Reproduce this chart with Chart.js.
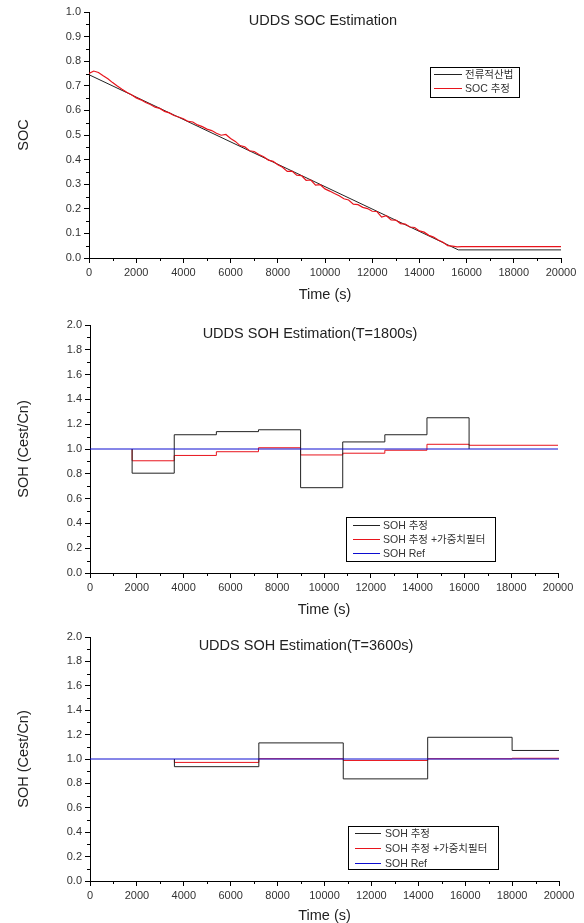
<!DOCTYPE html>
<html lang="ko">
<head>
<meta charset="UTF-8">
<title>UDDS SOC / SOH Estimation</title>
<script src="https://cdn.jsdelivr.net/npm/chart.js@4.4.1/dist/chart.umd.min.js"></script>
<style>
  html, body { margin: 0; padding: 0; background: #fff; overflow: hidden; width: 584px; height: 923px; }
  canvas { position: absolute; left: 0; }
</style>
</head>
<body>
<canvas id="socChart" width="584" height="305" style="top:0px"></canvas>
<canvas id="soh1800Chart" width="584" height="320" style="top:300px"></canvas>
<canvas id="soh3600Chart" width="584" height="316" style="top:612px"></canvas>

<script>
// ---- SOC (UDDS) ----
var socRefTime = [0, 15650, 20000];
var socRef = [0.745, 0.033, 0.033];

var socEstTime = [0, 200, 400, 600, 800, 1000, 1200, 1400, 1600, 1800,
    2000, 2200, 2400, 2600, 2800, 3000, 3200, 3400, 3600, 3800,
    4000, 4200, 4400, 4600, 4800, 5000, 5200, 5400, 5600, 5800,
    6000, 6200, 6400, 6600, 6800, 7000, 7200, 7400, 7600, 7800,
    8000, 8200, 8400, 8600, 8800, 9000, 9200, 9400, 9600, 9800,
    10000, 10200, 10400, 10600, 10800, 11000, 11200, 11400, 11600, 11800,
    12000, 12200, 12400, 12600, 12800, 13000, 13200, 13400, 13600, 13800,
    14000, 14200, 14400, 14600, 14800, 15000, 15200, 15400, 15600, 15800, 20000];
var socEst = [0.750, 0.760, 0.754, 0.741, 0.729, 0.713, 0.699, 0.686, 0.674, 0.664,
    0.651, 0.643, 0.632, 0.624, 0.613, 0.608, 0.596, 0.590, 0.579, 0.573,
    0.566, 0.555, 0.553, 0.541, 0.534, 0.524, 0.518, 0.507, 0.499, 0.502,
    0.486, 0.474, 0.457, 0.452, 0.436, 0.433, 0.421, 0.412, 0.398, 0.393,
    0.379, 0.369, 0.352, 0.353, 0.337, 0.335, 0.316, 0.317, 0.296, 0.298,
    0.281, 0.272, 0.262, 0.253, 0.241, 0.236, 0.219, 0.217, 0.206, 0.201,
    0.190, 0.189, 0.166, 0.172, 0.155, 0.154, 0.140, 0.138, 0.126, 0.124,
    0.110, 0.105, 0.092, 0.085, 0.073, 0.064, 0.050, 0.048, 0.045, 0.046, 0.046];

// ---- SOH, T = 1800 s (value holds from its time mark to the next; first entry = start at 1.0) ----
var soh1800EstTime = [1800, 1800, 3600, 5400, 7200, 9000, 10800, 12600, 14400, 16200];
var soh1800Est     = [1.0, 0.805, 1.115, 1.140, 1.155, 0.688, 1.057, 1.115, 1.252, 1.0];
var soh1800FiltTime = [1800, 1800, 3600, 5400, 7200, 9000, 10800, 12600, 14400, 16200, 20000];
var soh1800Filt     = [1.0, 0.905, 0.948, 0.978, 1.010, 0.952, 0.966, 0.990, 1.038, 1.030, 1.030];

// ---- SOH, T = 3600 s ----
var soh3600Time = [3600, 3600, 7200, 10800, 14400, 18000, 20000];
var soh3600Est  = [1.0, 0.937, 1.132, 0.837, 1.178, 1.070, 1.070];
var soh3600Filt = [1.0, 0.972, 1.002, 0.988, 1.002, 1.006, 1.006];

var sohRefTime = [0, 20000];
var sohRef = [1.0, 1.0];

var xTickLabels = ['0', '2000', '4000', '6000', '8000', '10000', '12000', '14000', '16000', '18000', '20000'];

var blackColor = '#222222';
var redColor = '#e8141c';
var blueColor = '#0c0cd0';

Chart.defaults.font.family = '"Liberation Sans", Arial, "Noto Sans CJK KR", sans-serif';

function toPoints(xs, ys) {
    return xs.map(function (x, i) { return { x: x, y: ys[i] }; });
}

// minor tick marks, Origin style (short, outside)
var minorTicks = {
    id: 'minorTicks',
    afterDraw: function (chart, args, opts) {
        var ctx = chart.ctx, xs = chart.scales.x, ys = chart.scales.y;
        ctx.save();
        ctx.strokeStyle = '#000';
        ctx.lineWidth = 1;
        ctx.beginPath();
        for (var v = opts.xStep; v < xs.max; v += 2 * opts.xStep) {
            var px = Math.round(xs.getPixelForValue(v)) + 0.5;
            ctx.moveTo(px, ys.bottom);
            ctx.lineTo(px, ys.bottom + 3);
        }
        for (var k = 1; k * opts.yStep < ys.max; k += 2) {
            var py = Math.round(ys.getPixelForValue(k * opts.yStep)) + 0.5;
            ctx.moveTo(xs.left, py);
            ctx.lineTo(xs.left - 3, py);
        }
        ctx.stroke();
        ctx.restore();
    }
};

// title drawn inside the plot area
var plotTitle = {
    id: 'plotTitle',
    afterDraw: function (chart, args, opts) {
        var ctx = chart.ctx;
        ctx.save();
        ctx.font = '14.5px "Liberation Sans", Arial, sans-serif';
        ctx.fillStyle = '#222';
        ctx.textAlign = 'center';
        ctx.textBaseline = 'middle';
        ctx.fillText(opts.text, opts.x, chart.chartArea.top + opts.dy);
        ctx.restore();
    }
};

// boxed legend placed inside the plot
var boxLegend = {
    id: 'boxLegend',
    afterDraw: function (chart, args, o) {
        var ctx = chart.ctx;
        ctx.save();
        ctx.strokeStyle = '#000';
        ctx.lineWidth = 1;
        ctx.strokeRect(Math.round(o.x) + 0.5, Math.round(o.y) + 0.5, o.w, o.h);
        ctx.font = '10.5px "Liberation Sans", Arial, "Noto Sans CJK KR", sans-serif';
        ctx.textBaseline = 'middle';
        ctx.textAlign = 'left';
        chart.data.datasets.forEach(function (ds, i) {
            var yy = Math.round(o.y + o.rowTop + i * o.rowGap) + 0.5;
            ctx.strokeStyle = ds.borderColor;
            ctx.beginPath();
            ctx.moveTo(o.x + o.line0, yy);
            ctx.lineTo(o.x + o.line1, yy);
            ctx.stroke();
            ctx.fillStyle = '#333';
            ctx.fillText(ds.label, o.x + o.textX, yy + 0.5);
        });
        ctx.restore();
    }
};

function makeScales(yMax, yStep, yTitle, yWidth, xTitlePad) {
    return {
        x: {
            type: 'linear', min: 0, max: 20000,
            ticks: {
                stepSize: 2000, color: '#333', font: { size: 11 }, padding: 3,
                maxRotation: 0, autoSkip: false,
                callback: function (v) { return xTickLabels[Math.round(v / 2000)]; }
            },
            grid: { display: true, drawOnChartArea: false, drawTicks: true, tickLength: 5, tickColor: '#000' },
            border: { display: true, color: '#000', width: 1 },
            title: { display: true, text: 'Time (s)', color: '#222', font: { size: 14.5 }, padding: { top: 0, bottom: xTitlePad } },
            afterFit: function (s) { s.height = 47; }
        },
        y: {
            type: 'linear', min: 0, max: yMax,
            ticks: {
                stepSize: yStep, color: '#333', font: { size: 11 }, padding: 3,
                callback: function (v) { return Number(v).toFixed(1); }
            },
            grid: { display: true, drawOnChartArea: false, drawTicks: true, tickLength: 5, tickColor: '#000' },
            border: { display: true, color: '#000', width: 1 },
            title: { display: true, text: yTitle, color: '#222', font: { size: 14.5 }, padding: { top: 15, bottom: 0 } },
            afterFit: function (s) { s.width = yWidth; }
        }
    };
}

function lineSet(label, xs, ys, color, order, width, stepped) {
    return {
        label: label,
        data: toPoints(xs, ys),
        borderColor: color,
        backgroundColor: color,
        borderWidth: width || 1,
        pointRadius: 0,
        fill: false,
        tension: 0,
        stepped: stepped || false,
        order: order
    };
}

// chart 1: SOC
new Chart(document.getElementById('socChart').getContext('2d'), {
    type: 'line',
    data: {
        datasets: [
            lineSet('전류적산법', socRefTime, socRef, blackColor, 1, 1),
            lineSet('SOC 추정', socEstTime, socEst, redColor, 0, 1.2)
        ]
    },
    options: {
        responsive: false,
        animation: false,
        layout: { padding: { top: 12, right: 23, left: 0, bottom: 0 } },
        scales: makeScales(1.0, 0.1, 'SOC', 89, 1),
        plugins: {
            legend: { display: false },
            tooltip: { enabled: false },
            minorTicks: { xStep: 1000, yStep: 0.05 },
            plotTitle: { text: 'UDDS SOC Estimation', x: 323, dy: 9 },
            boxLegend: { x: 430, y: 67, w: 89, h: 30, rowTop: 6.5, rowGap: 14.5, line0: 4, line1: 32, textX: 35 }
        }
    },
    plugins: [minorTicks, plotTitle, boxLegend]
});

// chart 2: SOH T=1800s
new Chart(document.getElementById('soh1800Chart').getContext('2d'), {
    type: 'line',
    data: {
        datasets: [
            lineSet('SOH 추정', soh1800EstTime, soh1800Est, blackColor, 1, 1, 'before'),
            lineSet('SOH 추정 +가중치필터', soh1800FiltTime, soh1800Filt, redColor, 2, 1, 'before'),
            lineSet('SOH Ref', sohRefTime, sohRef, blueColor, 0)
        ]
    },
    options: {
        responsive: false,
        animation: false,
        layout: { padding: { top: 25, right: 26, left: 0, bottom: 0 } },
        scales: makeScales(2.0, 0.2, 'SOH (Cest/Cn)', 90, 1),
        plugins: {
            legend: { display: false },
            tooltip: { enabled: false },
            minorTicks: { xStep: 1000, yStep: 0.1 },
            plotTitle: { text: 'UDDS SOH Estimation(T=1800s)', x: 310, dy: 9 },
            boxLegend: { x: 346, y: 217, w: 149, h: 44, rowTop: 7.7, rowGap: 14.2, line0: 7, line1: 34, textX: 37 }
        }
    },
    plugins: [minorTicks, plotTitle, boxLegend]
});

// chart 3: SOH T=3600s
new Chart(document.getElementById('soh3600Chart').getContext('2d'), {
    type: 'line',
    data: {
        datasets: [
            lineSet('SOH 추정', soh3600Time, soh3600Est, blackColor, 1, 1, 'before'),
            lineSet('SOH 추정 +가중치필터', soh3600Time, soh3600Filt, redColor, 2, 1, 'before'),
            lineSet('SOH Ref', sohRefTime, sohRef, blueColor, 0)
        ]
    },
    options: {
        responsive: false,
        animation: false,
        layout: { padding: { top: 25, right: 25, left: 0, bottom: 0 } },
        scales: makeScales(2.0, 0.2, 'SOH (Cest/Cn)', 90, 3),
        plugins: {
            legend: { display: false },
            tooltip: { enabled: false },
            minorTicks: { xStep: 1000, yStep: 0.1 },
            plotTitle: { text: 'UDDS SOH Estimation(T=3600s)', x: 306, dy: 8.5 },
            boxLegend: { x: 348, y: 214, w: 150, h: 43, rowTop: 6.7, rowGap: 15, line0: 7, line1: 33, textX: 37 }
        }
    },
    plugins: [minorTicks, plotTitle, boxLegend]
});
</script>
</body>
</html>
